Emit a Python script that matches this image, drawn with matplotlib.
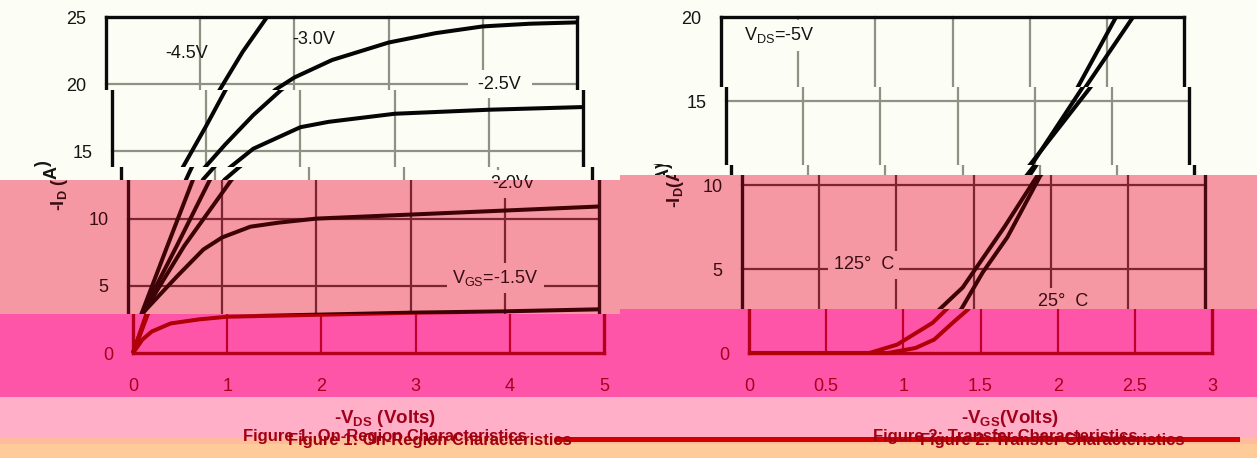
import matplotlib
matplotlib.use("Agg")
import matplotlib.pyplot as plt
from matplotlib.patches import Rectangle
from matplotlib.transforms import Bbox, TransformedBbox

plt.rcParams['font.family'] = ['Liberation Sans', 'DejaVu Sans']
plt.rcParams['mathtext.fontset'] = 'custom'
plt.rcParams['mathtext.rm'] = 'Liberation Sans'
plt.rcParams['mathtext.it'] = 'Liberation Sans:italic'
plt.rcParams['mathtext.bf'] = 'Liberation Sans:bold'

W, H, DPI = 1257, 458, 100

# ---------------- Figure 1 data: On-Region Characteristics ----------------
vds_ticks = [0, 1, 2, 3, 4, 5]
vds_ticklabels = ['0', '1', '2', '3', '4', '5']
id1_ticks = [0, 5, 10, 15, 20, 25]
id1_ticklabels = ['0', '5', '10', '15', '20', '25']

vds_m45 = [0, 0.145, 0.42, 0.69, 0.75, 1.0, 1.2, 1.45, 1.71]
id_m45 = [0, 2.95, 8.0, 12.9, 13.8, 16.9, 19.5, 22.4, 25.0]
vds_m30 = [0, 0.15, 0.52, 0.87, 1.2, 1.5, 1.8, 2.0, 2.4, 3.0, 3.5, 4.0, 4.5, 5.0]
id_m30 = [0, 2.95, 8.0, 12.9, 15.5, 17.7, 19.6, 20.5, 21.8, 23.1, 23.8, 24.3, 24.5, 24.6]
vds_m25 = [0, 0.16, 0.6, 1.1, 1.25, 1.5, 2.0, 2.3, 3.0, 4.0, 5.0]
id_m25 = [0, 2.95, 8.0, 12.9, 13.8, 15.2, 16.8, 17.2, 17.8, 18.1, 18.3]
vds_m20 = [0, 0.16, 0.52, 0.8, 1.0, 1.3, 1.6, 2.0, 3.0, 4.0, 5.0]
id_m20 = [0, 3.0, 5.7, 7.7, 8.6, 9.4, 9.7, 10.0, 10.3, 10.6, 10.9]
vds_m15 = [0, 0.1, 0.2, 0.4, 0.7, 1.0, 2.0, 3.0, 4.0, 5.0]
id_m15 = [0, 1.0, 1.6, 2.2, 2.5, 2.7, 2.85, 3.0, 3.1, 3.25]
fig1_labels = ['-4.5V', '-3.0V', ' -2.5V ', '-2.0V', 'V$_\\mathrm{GS}$=-1.5V']

# ---------------- Figure 2 data: Transfer Characteristics ----------------
vgs_ticks = [0, 0.5, 1, 1.5, 2, 2.5, 3]
vgs_ticklabels = ['0', '0.5', '1', '1.5', '2', '2.5', '3']
id2_ticks = [0, 5, 10, 15, 20]
id2_ticklabels = ['0', '5', '10', '15', '20']

vgs_125 = [0, 0.78, 0.96, 1.19, 1.28, 1.43, 1.52, 1.70, 1.91, 2.36, 2.67]
id_125 = [0, 0, 0.5, 1.8, 2.6, 3.9, 5.1, 7.5, 10.5, 15.8, 20.0]
vgs_25 = [0, 0.9, 1.08, 1.2, 1.32, 1.42, 1.56, 1.72, 1.93, 2.31, 2.56]
id_25 = [0, 0, 0.3, 0.8, 1.8, 2.6, 4.8, 6.9, 10.5, 15.8, 20.0]
fig2_labels = ['V$_\\mathrm{DS}$=-5V', '125°  C', '25°  C']

# ---------------- styling ----------------
STYLES = {
    'white': dict(bg='#fcfdf5', curve='#050505', grid='#8d9283', spine='#0a0a0a', text='#151515'),
    'pink': dict(bg='#f598a4', curve='#3d0205', grid='#7c2432', spine='#4a0810', text='#3a0c12'),
    'hot': dict(bg='#ff55a8', curve='#b00008', grid='#c2002e', spine='#b4001c', text='#a8001e'),
}

LEFT = dict(box=(133, 604, 353, 17),
            bands=[(0, 90, -27, 'white'), (90, 167, -21, 'white'), (167, 180, -12, 'white'),
                   (180, 314, -5, 'pink'), (314, 397, 0, 'hot')])
RIGHT = dict(box=(749, 1212, 353, 17),
             bands=[(0, 87, -28, 'white'), (87, 165, -23, 'white'), (165, 175, -18, 'white'),
                    (175, 309, -7, 'pink'), (309, 397, 0, 'hot')])

fig = plt.figure(figsize=(W / DPI, H / DPI), dpi=DPI)
fig.patch.set_facecolor('white')


def fx(px):
    return px / W


def fy(py):
    return 1.0 - py / H


def rect(x0, x1, y0, y1, color, z=-10):
    fig.add_artist(Rectangle((fx(x0), fy(y1)), fx(x1) - fx(x0), fy(y0) - fy(y1),
                             transform=fig.transFigure, facecolor=color,
                             edgecolor='none', zorder=z))


# background bands
for (panel, xa, xb) in ((LEFT, 0, 620), (RIGHT, 620, W)):
    for (ya, yb, dx, key) in panel['bands']:
        rect(xa, xb, ya, yb, STYLES[key]['bg'])
rect(0, W, 397, 437, '#ffb0c8')
rect(0, W, 437, 444, '#ffbb9e')
rect(0, W, 444, H, '#ffcc99')
rect(556, 1240, 437, 442, '#d40000', z=-5)


def overlaps(a0, a1, b0, b1):
    return a0 < b1 and b0 < a1


def draw_panel(panel, xt, xtl, yt, ytl, curves, notes, ylabel, ylabel_x, ylabel_span,
               xlabel, xlabel_pos):
    x0, x1, y0, y1 = panel['box']

    def ypx(v):
        return y0 - (v - yt[0]) / (yt[-1] - yt[0]) * (y0 - y1)

    for (ya, yb, dx, key) in panel['bands']:
        st = STYLES[key]
        ax = fig.add_axes([fx(x0 + dx), fy(y0), fx(x1) - fx(x0), fy(y1) - fy(y0)])
        ax.patch.set_visible(False)
        for s in ax.spines.values():
            s.set_visible(False)
        ax.set_xlim(xt[0], xt[-1])
        ax.set_ylim(yt[0], yt[-1])
        clip = TransformedBbox(Bbox([[0, fy(yb)], [1, fy(ya)]]), fig.transFigure)
        arts = []
        for v in xt[1:-1]:
            arts.append(ax.axvline(v, color=st['grid'], lw=1.6, zorder=1))
        for v in yt[1:-1]:
            arts.append(ax.axhline(v, color=st['grid'], lw=1.6, zorder=1))
        for v in (xt[0], xt[-1]):
            arts.append(ax.axvline(v, color=st['spine'], lw=2.4, zorder=1.5))
        for v in (yt[0], yt[-1]):
            arts.append(ax.axhline(v, color=st['spine'], lw=2.4, zorder=1.5))
        for xs, ys in curves:
            arts += ax.plot(xs, ys, color=st['curve'], lw=2.9, zorder=4,
                            solid_joinstyle='round', solid_capstyle='butt')
        # annotation texts: the part of each text that falls in this band
        for (tx, ty, s, boxed) in notes:
            py = ypx(ty)
            if not overlaps(py - 7, py + 7, ya, yb):
                continue
            t = ax.text(tx, ty, s, ha='center', va='center', fontsize=13,
                        color=st['text'], zorder=3, clip_on=True)
            if boxed:
                t.set_bbox(dict(boxstyle='square,pad=0.3', fc=st['bg'], ec='none'))
            arts.append(t)
        for a in arts:
            a.set_clip_path(None)
            a.set_clip_box(clip)
            a.set_clip_on(True)

        ax.set_xticks(xt)
        ax.set_xticklabels(xtl)
        ax.set_yticks(yt)
        ax.set_yticklabels([l if ya <= ypx(v) < yb else '' for l, v in zip(ytl, yt)])
        ax.tick_params(length=0, labelsize=13, colors=st['text'],
                       labelbottom=(key == 'hot'))
        ax.tick_params(axis='y', pad=14)
        ax.tick_params(axis='x', pad=18)

        if overlaps(ylabel_span[0], ylabel_span[1], ya, yb):
            ax.set_ylabel(ylabel, fontsize=13, fontweight='bold', color=st['text'])
            ax.yaxis.set_label_coords(ylabel_x, 0.5)
            ax.yaxis.label.set_clip_box(clip)
            ax.yaxis.label.set_clip_on(True)

        if key == 'hot':
            ax.set_xlabel(xlabel, fontsize=13.5, fontweight='bold', color='#a0001a')
            ax.xaxis.set_label_coords(*xlabel_pos)


draw_panel(LEFT, vds_ticks, vds_ticklabels, id1_ticks, id1_ticklabels,
           [(vds_m45, id_m45), (vds_m30, id_m30), (vds_m25, id_m25),
            (vds_m20, id_m20), (vds_m15, id_m15)],
           [(0.86, 22.3, fig1_labels[0], False), (2.2, 23.3, fig1_labels[1], False),
            (4.18, 20.0, fig1_labels[2], True), (4.09, 12.6, fig1_labels[3], True),
            (3.90, 5.58, fig1_labels[4], True)],
           '-I$_\\mathbf{D}$ (A)', -0.123, (145, 228),
           '-V$_\\mathbf{DS}$ (Volts)', (0.535, -0.164))

draw_panel(RIGHT, vgs_ticks, vgs_ticklabels, id2_ticks, id2_ticklabels,
           [(vgs_125, id_125), (vgs_25, id_25)],
           [(0.38, 18.9, fig2_labels[0], True), (0.79, 5.24, fig2_labels[1], True),
            (2.08, 3.04, fig2_labels[2], True)],
           '-I$_\\mathbf{D}$(A)', -0.12, (148, 224),
           '-V$_\\mathbf{GS}$(Volts)', (0.564, -0.164))

# figure captions (doubled, as in the reference)
cap_color = '#a00010'
fig.text(fx(385), fy(436), 'Figure 1: On-Region Characteristics', ha='center', va='center',
         fontsize=12, fontweight='bold', color=cap_color)
fig.text(fx(430), fy(441), 'Figure 1: On-Region Characteristics', ha='center', va='center',
         fontsize=12, fontweight='bold', color=cap_color)
fig.text(fx(1005), fy(436), 'Figure 2: Transfer Characteristics', ha='center', va='center',
         fontsize=12, fontweight='bold', color=cap_color)
fig.text(fx(1052), fy(441), 'Figure 2: Transfer Characteristics', ha='center', va='center',
         fontsize=12, fontweight='bold', color=cap_color)

fig.savefig('out.png', dpi=DPI)
